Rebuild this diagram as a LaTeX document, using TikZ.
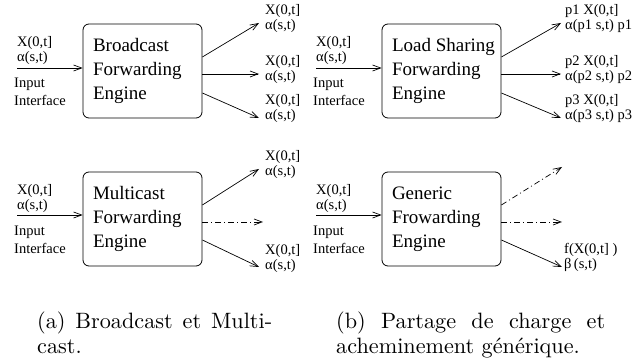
\documentclass[tikz,border=0pt]{standalone}
\usepackage{fontspec}
\newfontfamily\figfont{Liberation Serif}
\newfontfamily\capfont{lmroman10-regular}[Extension=.otf]
\usetikzlibrary{arrows.meta}

% stacked lines whose first baseline is the node's base
\newcommand\stacklines[1]{\begin{tabular}[t]{@{}l@{}}#1\end{tabular}}

\begin{document}
\begin{tikzpicture}[x=1pt,y=-1pt,
  engine/.style={draw, rounded corners=6pt, line width=0.8pt,
    minimum width=119pt, minimum height=94pt, inner xsep=10pt, inner ysep=0pt,
    text width=99pt, align=flush left,
    font=\figfont\fontsize{19}{24}\selectfont},
  sig/.style={inner sep=0pt, anchor=base west,
    font=\figfont\fontsize{14.5}{14}\selectfont},
  port/.style={inner sep=0pt, anchor=base west,
    font=\figfont\fontsize{14.5}{18}\selectfont},
  flow/.style={line width=0.7pt, -{Straight Barb[length=8pt,width=6pt]}},
  dashdot/.style={flow, dash pattern=on 6pt off 3pt on 1pt off 3pt},
  captext/.style={inner sep=0pt, anchor=base west,
    font=\capfont\fontsize{22.2}{25}\selectfont},
]
\useasboundingbox (0,0) rectangle (635,363);

% ---------- engines ----------
\node[engine] (bc) at (142.5,71)  {Broadcast\\Forwarding\\Engine};
\node[engine] (ls) at (441.5,71)  {\mbox{Load Sharing}\\Forwarding\\Engine};
\node[engine] (mc) at (142.5,219) {Multicast\\Forwarding\\Engine};
\node[engine] (gn) at (441.5,219) {Generic\\Frowarding\\Engine};

% ---------- inputs ----------
\coordinate (bcin) at (17,68);
\coordinate (lsin) at (316,68);
\coordinate (mcin) at (17,215);
\coordinate (gnin) at (316,215);
\draw[flow] (bcin) -- (bcin -| bc.west);
\draw[flow] (lsin) -- (lsin -| ls.west);
\draw[flow] (mcin) -- (mcin -| mc.west);
\draw[flow] (gnin) -- (gnin -| gn.west);

\node[sig]  (bcsig) at (17,47)   {\stacklines{X(0,t]\\α(s,t)}};
\node[port] (bcif)  at (14,88)   {\stacklines{Input\\Interface}};
\node[sig]  (lssig) at (316,47)  {\stacklines{X(0,t]\\α(s,t)}};
\node[port] (lsif)  at (313,88)  {\stacklines{Input\\Interface}};
\node[sig]  (mcsig) at (17,195)  {\stacklines{X(0,t]\\α(s,t)}};
\node[port] (mcif)  at (14,236)  {\stacklines{Input\\Interface}};
\node[sig]  (gnsig) at (316,195) {\stacklines{X(0,t]\\α(s,t)}};
\node[port] (gnif)  at (313,236) {\stacklines{Input\\Interface}};

% ---------- broadcast outputs ----------
\coordinate (bc1) at (259,23);
\coordinate (bc2) at (259,74);
\coordinate (bc3) at (259,118);
\draw[flow] ([yshift=14pt]bc.east) -- (bc1);
\draw[flow] ([yshift=-3pt]bc.east) -- (bc2);
\draw[flow] ([yshift=-22pt]bc.east) -- (bc3);
\node[sig] (bcout1) at (265,15)  {\stacklines{X(0,t]\\α(s,t)}};
\node[sig] (bcout2) at (265,66)  {\stacklines{X(0,t]\\α(s,t)}};
\node[sig] (bcout3) at (265,105) {\stacklines{X(0,t]\\α(s,t)}};

% ---------- load sharing outputs ----------
\coordinate (ls1) at (561,23);
\coordinate (ls2) at (561,74);
\coordinate (ls3) at (561,118);
\draw[flow] ([yshift=14pt]ls.east) -- (ls1);
\draw[flow] ([yshift=-3pt]ls.east) -- (ls2);
\draw[flow] ([yshift=-22pt]ls.east) -- (ls3);
\node[sig] (lsout1) at (565,15)  {\stacklines{p1 X(0,t]\\α(p1 s,t) p1}};
\node[sig] (lsout2) at (565,66)  {\stacklines{p2 X(0,t]\\α(p2 s,t) p2}};
\node[sig] (lsout3) at (565,105) {\stacklines{p3 X(0,t]\\α(p3 s,t) p3}};

% ---------- multicast outputs ----------
\coordinate (mc1) at (259,169);
\coordinate (mc2) at (263,222);
\coordinate (mc3) at (259,267);
\draw[flow]    ([yshift=14pt]mc.east) -- (mc1);
\draw[dashdot] ([yshift=-3pt]mc.east) -- (mc2);
\draw[flow]    ([yshift=-21pt]mc.east) -- (mc3);
\node[sig] (mcout1) at (265,161) {\stacklines{X(0,t]\\α(s,t)}};
\node[sig] (mcout3) at (265,255) {\stacklines{X(0,t]\\α(s,t)}};

% ---------- generic outputs ----------
\coordinate (gn1) at (562,167);
\coordinate (gn2) at (562,222);
\coordinate (gn3) at (562,267);
\draw[dashdot] ([yshift=14pt]gn.east) -- (gn1);
\draw[dashdot] ([yshift=-3pt]gn.east) -- (gn2);
\draw[flow]    ([yshift=-21pt]gn.east) -- (gn3);
\node[sig] (gnout3) at (564,254) {\stacklines{f(X(0,t] )\\β\,(s,t)}};

% ---------- captions ----------
\node[captext] (capa) at (37,328.5)
  {\stacklines{\makebox[235pt][s]{(a) Broadcast et Multi-}\\cast.}};
\node[captext] (capb) at (336,328.5)
  {\stacklines{\makebox[269pt][s]{(b) Partage de charge et}\\acheminement générique.}};
\end{tikzpicture}
\end{document}
